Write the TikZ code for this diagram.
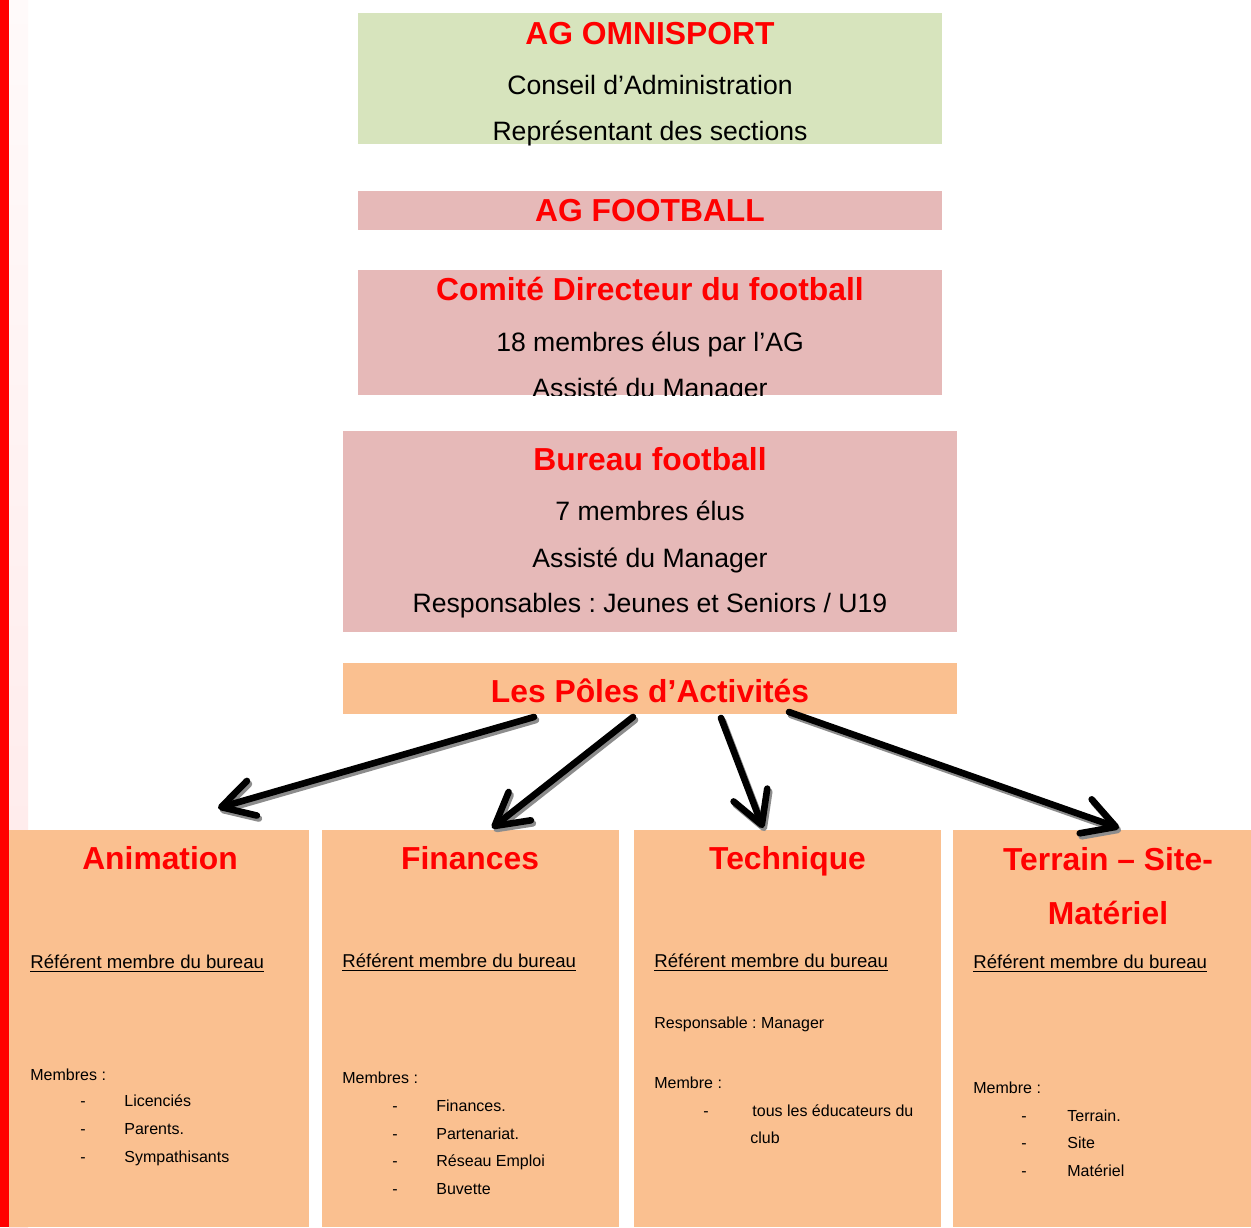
\documentclass[tikz,border=0pt]{standalone}
\usepackage{fontspec}
\setmainfont{Liberation Sans}
\usetikzlibrary{arrows.meta}
\definecolor{vert}{HTML}{D7E4BD}
\definecolor{rose}{HTML}{E6B9B8}
\definecolor{saumon}{HTML}{FAC090}
\frenchspacing

\begin{document}
\begin{tikzpicture}[x=0.5pt, y=-0.5pt,
	box/.style={fill=#1, inner sep=0pt, outer sep=0pt},
	titre/.style={text=red, anchor=base, font=\fontsize{15.9}{18}\selectfont\bfseries},
	texte/.style={anchor=base, font=\fontsize{13.3}{16}\selectfont},
	refer/.style={anchor=base west, inner sep=0pt, font=\fontsize{9.3}{11}\selectfont},
	petit/.style={anchor=base west, inner sep=0pt, font=\fontsize{8}{9.5}\selectfont},
	ombre/.style={draw=black!45, line width=3.3pt, line cap=round, -{Straight Barb[length=16pt,width=18pt,round]}},
	fleche/.style={draw=black, line width=3.3pt, line cap=round, -{Straight Barb[length=16pt,width=18pt,round]}}]

% page and left border
\fill[white] (0,0) rectangle (1251,1227);
\fill[red] (0,0) rectangle (9,1227);
\shade[top color=red!2, bottom color=red!10] (9,0) rectangle (28,1227);

% boxes
\node[box=vert, minimum width=292pt, minimum height=65.5pt] (omni) at (650,78.5) {};
\node[box=rose, minimum width=292pt, minimum height=19.5pt] (agfoot) at (650,210.5) {};
\node[box=rose, minimum width=292pt, minimum height=62.5pt] (comite) at (650,332.5) {};
\node[box=rose, minimum width=307pt, minimum height=100.5pt] (bureau) at (650,531.5) {};
\node[box=saumon, minimum width=307pt, minimum height=25.5pt] (poles) at (650,688.5) {};
\node[box=saumon, minimum width=150pt, minimum height=198.5pt] (anim) at (159,1028.5) {};
\node[box=saumon, minimum width=148.5pt, minimum height=198.5pt] (fin) at (470.5,1028.5) {};
\node[box=saumon, minimum width=153.5pt, minimum height=198.5pt] (tech) at (787.5,1028.5) {};
\node[box=saumon, minimum width=149pt, minimum height=198.5pt] (terr) at (1102,1028.5) {};

% AG omnisport
\node[titre] (t-omni) at (650,44) {AG OMNISPORT};
\node[texte] (t-omni2) at (650,94) {Conseil d’Administration};
\node[texte] (t-omni3) at (650,140) {Représentant des sections};

% AG football
\node[titre] (t-agfoot) at (650,221) {AG FOOTBALL};

% comite directeur
\node[titre] (t-comite) at (650,300) {Comité Directeur du football};
\node[texte] (t-comite2) at (650,351) {18 membres élus par l’AG};
\begin{scope}
\clip (358,270) rectangle (942,395);
\node[texte] (t-comite3) at (650,397) {Assisté du Manager};
\end{scope}

% bureau
\node[titre] (t-bureau) at (650,470) {Bureau football};
\node[texte] (t-bureau2) at (650,520) {7 membres élus};
\node[texte] (t-bureau3) at (650,567) {Assisté du Manager};
\node[texte] (t-bureau4) at (650,612) {Responsables : Jeunes et Seniors / U19};

% poles
\node[titre] (t-poles) at (650,702) {Les Pôles d’Activités};

% arrows (shadow first)
\draw[ombre] ([xshift=-57pt,yshift=-3pt]poles.south) -- ([xshift=30.5pt,yshift=9.5pt]anim.north);
\draw[ombre] ([xshift=-7.5pt,yshift=-3pt]poles.south) -- ([xshift=11.75pt,yshift=-0.5pt]fin.north);
\draw[ombre] ([xshift=36.5pt,yshift=-3.5pt]poles.south) -- ([xshift=-11.25pt,yshift=-0.5pt]tech.north);
\draw[ombre] ([xshift=70.5pt,yshift=-0.5pt]poles.south) -- ([xshift=9.5pt,yshift=-0.5pt]terr.north);
\draw[fleche] ([xshift=-58pt,yshift=-1.5pt]poles.south) -- ([xshift=29.5pt,yshift=11pt]anim.north);
\draw[fleche] ([xshift=-8.5pt,yshift=-1.5pt]poles.south) -- ([xshift=10.75pt,yshift=1pt]fin.north);
\draw[fleche] ([xshift=35.5pt,yshift=-2pt]poles.south) -- ([xshift=-12.25pt,yshift=1pt]tech.north);
\draw[fleche] ([xshift=69.5pt,yshift=1pt]poles.south) -- ([xshift=8.5pt,yshift=1pt]terr.north);

% Animation
\node[titre] (t-anim) at (160,869) {Animation};
\node[refer] (r-anim) at (30,968) {\underline{Référent membre du bureau}};
\path	(30,1080) node[petit] (m-anim) {Membres :}
		(80,1106) node[petit] (d-anim1) {-}
		(124,1106) node[petit] (i-anim1) {Licenciés}
		(80,1134) node[petit] (d-anim2) {-}
		(124,1134) node[petit] (i-anim2) {Parents.}
		(80,1162) node[petit] (d-anim3) {-}
		(124,1162) node[petit] (i-anim3) {Sympathisants};

% Finances
\node[titre] (t-fin) at (470,869) {Finances};
\node[refer] (r-fin) at (342,967) {\underline{Référent membre du bureau}};
\path	(342,1083) node[petit] (m-fin) {Membres :}
		(392,1111) node[petit] (d-fin1) {-}
		(436,1111) node[petit] (i-fin1) {Finances.}
		(392,1139) node[petit] (d-fin2) {-}
		(436,1139) node[petit] (i-fin2) {Partenariat.}
		(392,1166) node[petit] (d-fin3) {-}
		(436,1166) node[petit] (i-fin3) {Réseau Emploi}
		(392,1194) node[petit] (d-fin4) {-}
		(436,1194) node[petit] (i-fin4) {Buvette};

% Technique
\node[titre] (t-tech) at (787.5,869) {Technique};
\node[refer] (r-tech) at (654,967) {\underline{Référent membre du bureau}};
\path	(654,1028) node[petit] (resp-tech) {Responsable : Manager}
		(654,1088) node[petit] (m-tech) {Membre :}
		(703,1116) node[petit] (d-tech1) {-}
		(752,1116) node[petit] (i-tech1) {tous les éducateurs du}
		(750,1143) node[petit] (i-tech2) {club};

% Terrain
\node[titre] (t-terr) at (1108,870) {Terrain – Site-};
\node[titre] (t-terr2) at (1108,924) {Matériel};
\node[refer] (r-terr) at (973,968) {\underline{Référent membre du bureau}};
\path	(973,1093) node[petit] (m-terr) {Membre :}
		(1021,1121) node[petit] (d-terr1) {-}
		(1067,1121) node[petit] (i-terr1) {Terrain.}
		(1021,1148) node[petit] (d-terr2) {-}
		(1067,1148) node[petit] (i-terr2) {Site}
		(1021,1176) node[petit] (d-terr3) {-}
		(1067,1176) node[petit] (i-terr3) {Matériel};

\end{tikzpicture}
\end{document}
